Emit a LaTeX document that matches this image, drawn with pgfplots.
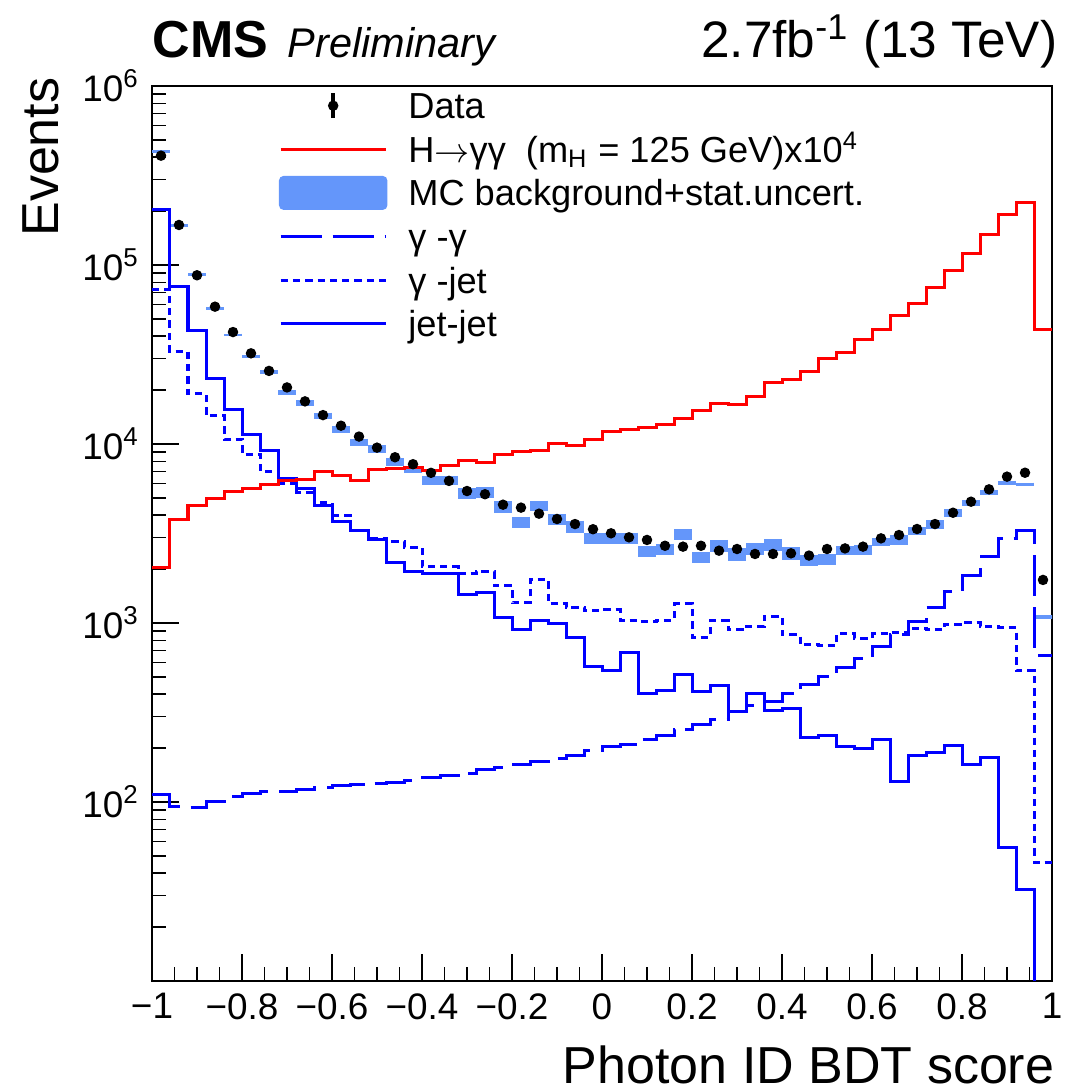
\documentclass[border=0pt]{standalone}
\usepackage{fontspec}
\setmainfont{Liberation Sans}
\usepackage{pgfplots}
\pgfplotsset{compat=1.18}
\usepackage{pgfplotstable}
\definecolor{bandcol}{RGB}{100,150,250}
\definecolor{rootblue}{RGB}{0,0,255}
\definecolor{rootred}{RGB}{255,0,0}

% bin lower edges; last row repeats bin 49 at x=1
\pgfplotstableread{
x sig gg gj jj lo hi
-1.00 2050 110.8 73150 202900 422000 437000
-0.96 3800 94.1 32780 75670 163000 168600
-0.92 4520 93.4 19030 42950 86300 89700
-0.88 4950 100.4 14340 23280 55700 57900
-0.84 5410 107.1 10620 15630 39900 41400
-0.80 5630 111.8 8790 11230 30400 31600
-0.76 5960 114.2 7000 9140 24700 25800
-0.72 6220 114.2 6030 6430 18700 20000
-0.68 6320 117.8 5390 5655 16300 17600
-0.64 6980 120.2 4700 4520 13800 14980
-0.60 6650 122.9 3990 3700 11550 12570
-0.56 6290 124.5 3266 3270 9750 10690
-0.52 7220 127.2 2966 2935 8940 9810
-0.48 7300 129.3 2835 2178 7540 8350
-0.44 7390 132.7 2634 1935 6850 7460
-0.40 7110 137.4 2055 1895 5900 6630
-0.36 7590 140.3 2055 1895 5900 6630
-0.32 8070 145.2 1895 1434 4930 5650
-0.28 7860 151.0 1935 1471 5010 5770
-0.24 8790 156.8 1616 1076 4110 4790
-0.20 9060 161.0 1298 922 3410 3930
-0.16 9180 168.0 1754 1039 4230 4820
-0.12 10000 175.4 1289 996 3510 4040
-0.08 9870 183.0 1224 828 3200 3730
-0.04 10530 195.2 1167 570 2750 3170
0.00 11710 203.7 1182 541 2750 3170
0.04 12080 210.1 1030 683 2750 3200
0.08 12400 224.0 1017 405 2330 2700
0.12 12770 236.7 1039 419 2400 2780
0.16 13840 252.5 1277 517 2910 3350
0.20 15350 269.3 832 413 2150 2500
0.24 16730 289.7 1030 445 2500 2910
0.28 16520 322.3 914 320 2220 2610
0.32 18370 343.9 954 405 2390 2800
0.36 22000 363.4 1094 324 2530 2940
0.40 22990 404.9 857 334 2260 2650
0.44 25510 450.5 754 230 2070 2410
0.48 30120 501.2 744 235 2120 2430
0.52 32370 562.7 868 204 2390 2680
0.56 38110 635 821 200 2400 2730
0.60 43340 737.2 868 224 2680 3000
0.64 52100 857 883 130 2720 3090
0.68 60550 1017 934 183 3090 3430
0.72 74670 1224 914 189 3370 3740
0.76 92590 1496 975 206 3930 4320
0.80 115200 1854 1004 161 4500 4870
0.84 148400 2346 954 177 5190 5530
0.88 192000 2973 941 55.8 5900 6250
0.92 222800 3266 541 32.5 5830 6090
0.96 43340 662.5 46 1 1052 1108
1.00 43340 662.5 46 1 1052 1108
}\hist

\pgfplotstableread{
x y
-0.98 408000
-0.94 167300
-0.90 87600
-0.86 58500
-0.82 42200
-0.78 32100
-0.74 25600
-0.70 20700
-0.66 17300
-0.62 14500
-0.58 12650
-0.54 11000
-0.50 9540
-0.46 8430
-0.42 7710
-0.38 6900
-0.34 6220
-0.30 5460
-0.26 5240
-0.22 4580
-0.18 4410
-0.14 4080
-0.10 3810
-0.06 3570
-0.02 3340
0.02 3170
0.06 3010
0.10 2910
0.14 2700
0.18 2670
0.22 2700
0.26 2535
0.30 2590
0.34 2430
0.38 2430
0.42 2450
0.46 2380
0.50 2590
0.54 2610
0.58 2670
0.62 2970
0.66 3100
0.70 3350
0.74 3570
0.78 4130
0.82 4760
0.86 5580
0.90 6570
0.94 6910
0.98 1740
}\datatab

\begin{document}
\begin{tikzpicture}
\begin{axis}[
  scale only axis, width=90mm, height=89.5mm,
  xmin=-1, xmax=1, ymode=log, ymin=10, ymax=1e6,
  axis line style={line width=0.15mm, black},
  tick style={line width=0.15mm, black},
  tick align=inside, tick pos=left,
  major tick length=2.7mm, minor tick length=1.4mm,
  xtick={-1,-0.8,-0.6,-0.4,-0.2,0,0.2,0.4,0.6,0.8,1},
  xticklabels={−1,−0.8,−0.6,−0.4,−0.2,0,0.2,0.4,0.6,0.8,1},
  minor x tick num=3,
  ytick={100,1000,10000,100000,1000000},
  yticklabels={10\textsuperscript{2},10\textsuperscript{3},10\textsuperscript{4},10\textsuperscript{5},10\textsuperscript{6}},
  minor ytick={20,30,40,50,60,70,80,90,200,300,400,500,600,700,800,900,2000,3000,4000,5000,6000,7000,8000,9000,20000,30000,40000,50000,60000,70000,80000,90000,200000,300000,400000,500000,600000,700000,800000,900000},
  every tick label/.append style={font=\fontsize{10.5}{12}\selectfont},
  xlabel={Photon ID BDT score},
  ylabel={Events},
  xlabel style={at={(axis description cs:1.0033,-0.115)}, anchor=base east, inner sep=0pt, font=\fontsize{14.8}{16}\selectfont},
  ylabel style={at={(axis description cs:-0.1022,1.0101)}, anchor=south east, inner sep=0pt, font=\fontsize{14.8}{16}\selectfont},
  legend cell align=left,
  legend style={at={(axis description cs:0.1411,1.0023)}, anchor=north west, draw=none, fill=none,
    inner sep=0pt, outer sep=0pt, row sep=0pt, column sep=2.1mm,
    font=\fontsize{10.3}{12}\selectfont,
    nodes={inner sep=0pt, text height=3.48mm, text depth=0.88mm}},
]
\addlegendimage{legend image code/.code={
  \path[draw=none, fill=none] (0mm,0mm) rectangle (10.5mm,0mm);
  \draw[black, line width=0.35mm] (5.25mm,-1.25mm) -- (5.25mm,1.25mm);
  \fill[black] (5.25mm,0mm) circle[radius=0.45mm];}}
\addlegendentry{Data}
\addlegendimage{legend image code/.code={\draw[rootred, line width=0.3mm] (0mm,0mm) -- (10.5mm,0mm);}}
\addlegendentry{H$\rightarrow$γγ\ \ (m\textsubscript{H} = 125 GeV)x10\textsuperscript{4}}
\addlegendimage{legend image code/.code={\fill[bandcol, rounded corners=0.4mm] (-0.1mm,-1.63mm) rectangle (10.6mm,1.63mm);}}
\addlegendentry{MC background+stat.uncert.}
\addlegendimage{legend image code/.code={\draw[rootblue, line width=0.3mm, dash pattern=on 4.1mm off 1.1mm] (0mm,0mm) -- (10.5mm,0mm);}}
\addlegendentry{γ -γ}
\addlegendimage{legend image code/.code={\draw[rootblue, line width=0.3mm, dash pattern=on 0.73mm off 0.5mm] (0mm,0mm) -- (10.5mm,0mm);}}
\addlegendentry{γ -jet}
\addlegendimage{legend image code/.code={\draw[rootblue, line width=0.3mm] (0mm,0mm) -- (10.5mm,0mm);}}
\addlegendentry{jet-jet}

% MC background band: one box per bin, from lo to hi, 1.8mm (= one bin) wide
\addplot[draw=none, mark=none, forget plot,
  error bars/.cd, y dir=minus, y explicit, error mark=none,
  error bar style={line width=1.8mm, bandcol}]
  table[x expr=\thisrow{x}+0.02, y=hi, y error minus expr=\thisrow{hi}-\thisrow{lo}] {\hist};

% backgrounds
\addplot[rootblue, line width=0.3mm, dash pattern=on 4.1mm off 1.1mm, const plot mark left, forget plot] table[x=x, y=gg] {\hist};
\addplot[rootblue, line width=0.3mm, dash pattern=on 0.73mm off 0.5mm, const plot mark left, forget plot] table[x=x, y=gj] {\hist};
\addplot[rootblue, line width=0.3mm, const plot mark left, forget plot] table[x=x, y=jj] {\hist};
% signal
\addplot[rootred, line width=0.3mm, const plot mark left, forget plot] table[x=x, y=sig] {\hist};
% data
\addplot[only marks, mark=*, mark size=0.45mm, black, forget plot] table[x=x, y=y] {\datatab};
\end{axis}
\node[anchor=base west, inner sep=0pt, font=\fontsize{14.8}{16}\selectfont\bfseries] at ([yshift=2.8mm]current axis.north west) {CMS};
\node[anchor=base west, inner sep=0pt, font=\fontsize{11.8}{14}\selectfont\itshape] at ([xshift=13.5mm,yshift=2.8mm]current axis.north west) {Preliminary};
\node[anchor=base east, inner sep=0pt, font=\fontsize{14.6}{16}\selectfont] at ([xshift=0.6mm,yshift=2.8mm]current axis.north east) {2.7fb\textsuperscript{-1} (13 TeV)};
\path ([xshift=-15.2mm,yshift=-11.1mm]current axis.south west) rectangle ([xshift=1.1mm,yshift=8.6mm]current axis.north east);
\end{tikzpicture}
\end{document}
